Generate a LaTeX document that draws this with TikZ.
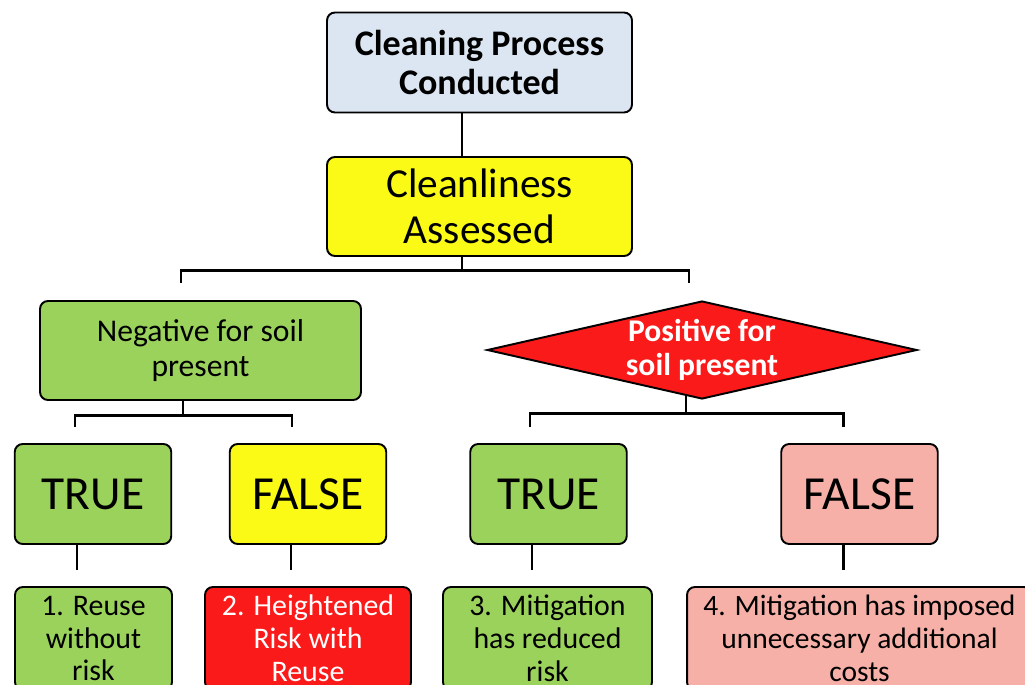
\documentclass[tikz,border=0pt]{standalone}
\usepackage{fontspec}
\setmainfont{Carlito}
\usetikzlibrary{shapes.geometric,backgrounds}

\definecolor{procblue}{RGB}{220,230,242}
\definecolor{assessyellow}{RGB}{250,250,22}
\definecolor{okgreen}{RGB}{155,210,92}
\definecolor{riskred}{RGB}{250,26,26}
\definecolor{costpink}{RGB}{246,176,168}

\tikzset{
	box/.style={draw=black, line width=1.1pt, rounded corners=4.5pt, align=center, inner sep=0pt},
	verdict/.style={box, minimum width=3.13cm, minimum height=2cm, font=\fontsize{27}{32}\selectfont},
	outcome/.style={box, minimum height=2.06cm, font=\fontsize{17}{18.7}\selectfont},
	conn/.style={line width=1.7pt}
}

\begin{document}
\begin{tikzpicture}[x=0.02cm,y=-0.02cm]
	\clip (0,0) rectangle (1025,684);
	\useasboundingbox (0,0) rectangle (1025,684);

	% process and assessment
	\node[box, fill=procblue, minimum width=6.1cm, minimum height=2cm,
		font=\fontsize{20.5}{22.7}\selectfont\bfseries] (process) at (479.5,62.5) {Cleaning Process\\Conducted};
	\node[box, fill=assessyellow, minimum width=6.1cm, minimum height=1.98cm,
		font=\fontsize{23.5}{26.5}\selectfont] (assessed) at (479.5,206.5) {Cleanliness\\Assessed};

	% the two results
	\node[box, fill=okgreen, minimum width=6.42cm, minimum height=1.98cm,
		font=\fontsize{18}{19.5}\selectfont] (negative) at (200.5,350.5) {Negative for soil\\present};
	\node[draw=black, line width=1.1pt, fill=riskred, shape=diamond, inner sep=0pt,
		minimum width=8.6cm, minimum height=1.96cm,
		label={[text=white, align=center, font=\fontsize{18}{19.5}\selectfont\bfseries]center:Positive for\\soil present}]
		(positive) at (702,350) {};

	% true / false
	\node[verdict, fill=okgreen] (negtrue) at (93,494) {TRUE};
	\node[verdict, fill=assessyellow] (negfalse) at (308,494) {FALSE};
	\node[verdict, fill=okgreen] (postrue) at (548.5,494) {TRUE};
	\node[verdict, fill=costpink] (posfalse) at (859.5,494) {FALSE};

	% outcomes
	\node[outcome, fill=okgreen, minimum width=3.14cm] (out1) at (93.5,638.5) {1. Reuse\\without\\risk};
	\node[outcome, fill=riskred, text=white, minimum width=4.12cm] (out2) at (308,638.5) {2. Heightened\\Risk with\\Reuse};
	\node[outcome, fill=okgreen, minimum width=4.18cm] (out3) at (547.5,638.5) {3. Mitigation\\has reduced\\risk};
	\node[outcome, fill=costpink, minimum width=6.9cm, font=\fontsize{16.8}{18.7}\selectfont] (out4) at (859.5,638.5) {4. Mitigation has imposed\\unnecessary additional\\costs};

	\coordinate (j1) at (462,270);
	\coordinate (j2) at (183,415);
	\coordinate (j3) at (686,413);
	\coordinate (negtop) at (181,283);
	\coordinate (postop) at (689,283);
	\coordinate (t1top) at (75,427);
	\coordinate (f1top) at (292,427);
	\coordinate (t2top) at (530,427);
	\coordinate (f2top) at (843,427);
	\coordinate (t1end) at (77,570);
	\coordinate (f1end) at (291,570);
	\coordinate (t2end) at (532,570);
	\coordinate (f2end) at (843,570);

	\begin{pgfonlayer}{background}
		\draw[conn] (process.south -| j1) -- (assessed.north -| j1);
		\draw[conn] (assessed.center -| j1) -- (j1);
		\draw[conn] (negtop) |- (j1) -| (postop);
		\draw[conn] (negative.center -| j2) -- (j2);
		\draw[conn] (t1top) |- (j2) -| (f1top);
		\draw[conn] (positive.center -| j3) -- (j3);
		\draw[conn] (t2top) |- (j3) -| (f2top);
		\draw[conn] (negtrue.center -| t1end) -- (t1end);
		\draw[conn] (negfalse.center -| f1end) -- (f1end);
		\draw[conn] (postrue.center -| t2end) -- (t2end);
		\draw[conn] (posfalse.center -| f2end) -- (f2end);
	\end{pgfonlayer}
\end{tikzpicture}
\end{document}
